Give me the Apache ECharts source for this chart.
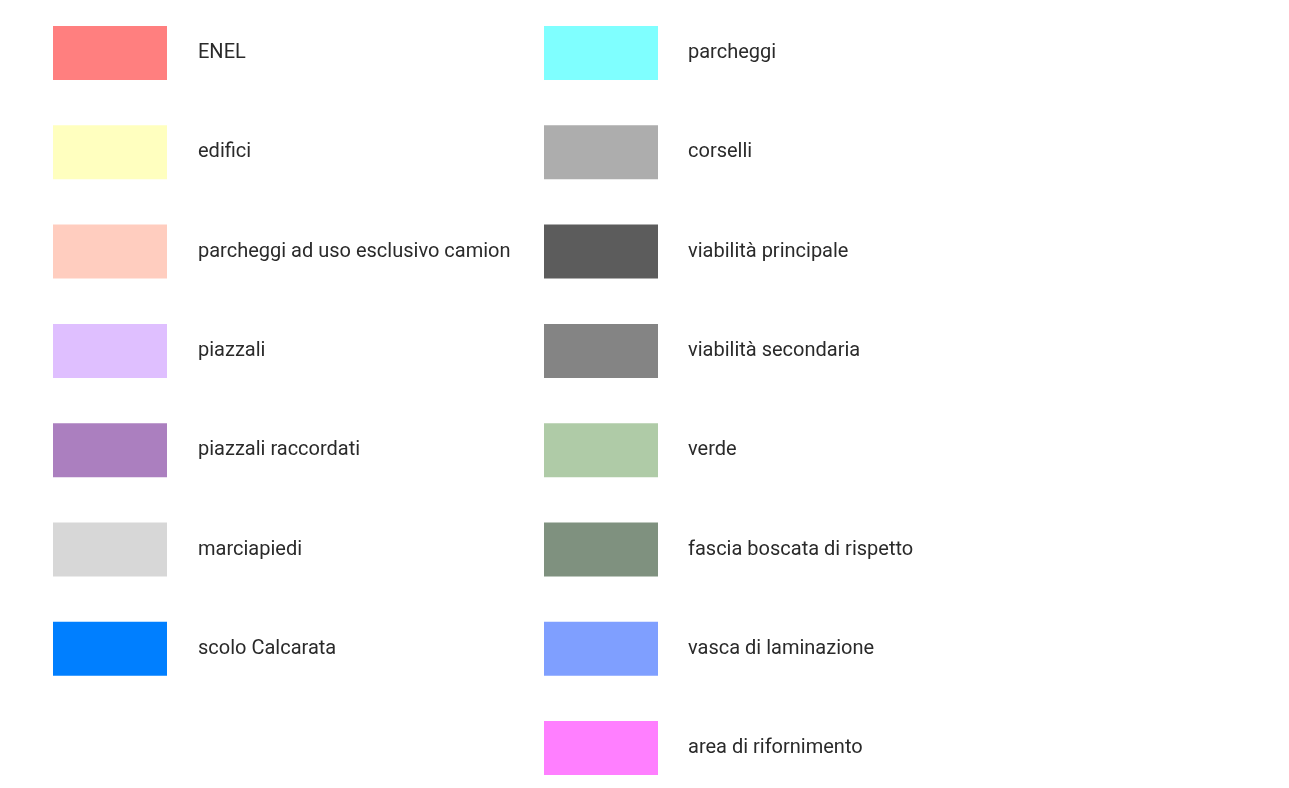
<!DOCTYPE html>
<html><head><meta charset="utf-8">
<script src="https://cdn.jsdelivr.net/npm/echarts@6/dist/echarts.min.js"></script>
<style>html,body{margin:0;padding:0;background:#fff}#c{width:1289px;height:788px}</style>
</head><body><div id="c"></div>
<script>
const leftNames = ['ENEL','edifici','parcheggi ad uso esclusivo camion','piazzali','piazzali raccordati','marciapiedi','scolo Calcarata'];
const leftColors = ['#ff7f7f','#ffffbf','#ffcdbf','#dfbfff','#ab7fbf','#d7d7d7','#007fff'];
const rightNames = ['parcheggi','corselli','viabilità principale','viabilità secondaria','verde','fascia boscata di rispetto','vasca di laminazione','area di rifornimento'];
const rightColors = ['#7fffff','#adadad','#5c5c5c','#848484','#afcba7','#7f917f','#7f9fff','#ff7fff'];

const allNames = leftNames.concat(rightNames);
const allColors = leftColors.concat(rightColors);

const chart = echarts.init(document.getElementById('c'));
const legendBase = {
  orient: 'vertical', icon: 'rect', itemWidth: 114, itemHeight: 54, itemGap: 45.3,
  padding: 0, selectedMode: false,
  textStyle: { fontFamily: 'Roboto', fontSize: 20, color: '#2a2a2a', padding: [0,0,0,26] },
  itemStyle: { borderWidth: 0 }
};
chart.setOption({
  animation: false,
  xAxis: { show: false, type: 'category', data: [] },
  yAxis: { show: false, type: 'value' },
  grid: { show: false },
  legend: [
    Object.assign({}, legendBase, { left: 53, top: 26, data: leftNames }),
    Object.assign({}, legendBase, { left: 544, top: 26, data: rightNames,
      textStyle: Object.assign({}, legendBase.textStyle, { padding: [0,0,0,25] }) })
  ],
  series: allNames.map((n, i) => ({ name: n, type: 'bar', data: [], itemStyle: { color: allColors[i] } }))
});
</script></body></html>
